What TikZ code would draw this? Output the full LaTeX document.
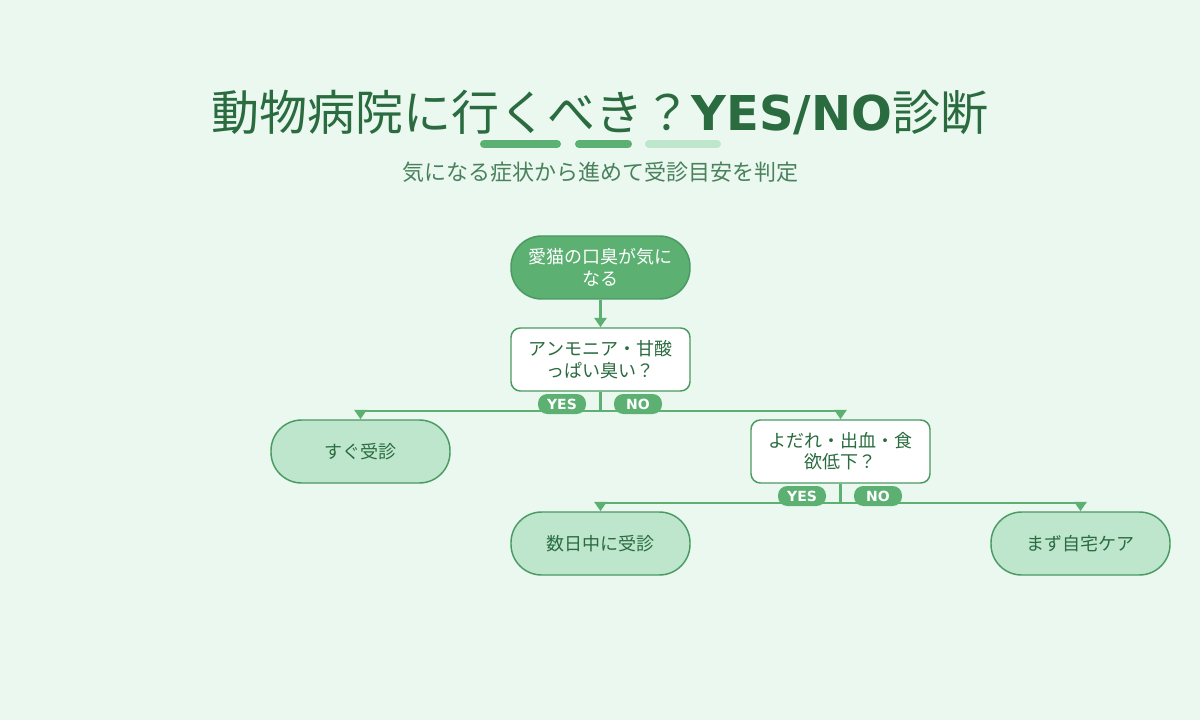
\documentclass[tikz,border=0pt]{standalone}
\usepackage{fontspec}
\setmainfont{Noto Sans CJK JP}
\newfontfamily\lat{DejaVu Sans}
\usetikzlibrary{arrows.meta}
\definecolor{bg}{HTML}{EAF8EF}
\definecolor{dk}{HTML}{2A6B3F}
\definecolor{gr}{HTML}{5CB072}
\definecolor{bd}{HTML}{4A9A62}
\definecolor{lt}{HTML}{BEE6CD}
\tikzset{
 x=0.75pt,y=-0.75pt,
 box/.style={minimum width=134.25pt,minimum height=47.25pt,draw=bd,line width=1.1pt,align=center,font=\fontsize{13.5}{16}\selectfont,inner sep=2pt},
 term/.style={box,rounded corners=23pt},
 qbox/.style={box,rounded corners=7pt,fill=white,text=dk},
 pill/.style={fill=gr,text=white,rounded corners=7pt,minimum width=36pt,minimum height=15pt,inner sep=0pt,font=\lat\bfseries\fontsize{10.5}{10}\selectfont},
 con/.style={draw=gr,line width=1.8pt},
 arr/.style={con,-{Triangle[width=9pt,length=7pt]}},
 bar/.style={line width=6pt,line cap=round}
}
\begin{document}
\begin{tikzpicture}
\fill[bg] (0,0) rectangle (1200,720);
\useasboundingbox (0,0) rectangle (1200,720);
\node[text=dk,font=\fontsize{36}{40}\selectfont,anchor=base] (title) at (600,131) {動物病院に行くべき？{\lat\bfseries YES/NO}診断};
\draw[bar,gr] (484,144) -- (557,144);
\draw[bar,gr] (579,144) -- (628,144);
\draw[bar,lt] (649,144) -- (717,144);
\node[text=dk!85,font=\fontsize{16.5}{18}\selectfont] (sub) at (600,172) {気になる症状から進めて受診目安を判定};
\node[term,fill=gr,text=white] (s) at (600.5,267.5) {愛猫の口臭が気に\\なる};
\node[qbox] (q1) at (600.5,359.5) {アンモニア・甘酸\\っぱい臭い？};
\node[term,fill=lt,text=dk] (a1) at (360.5,451.5) {すぐ受診};
\node[qbox] (q2) at (840.5,451.5) {よだれ・出血・食\\欲低下？};
\node[term,fill=lt,text=dk] (a2) at (600.5,543.5) {数日中に受診};
\node[term,fill=lt,text=dk] (a3) at (1080.5,543.5) {まず自宅ケア};
\draw[arr] (s) -- (q1);
\coordinate (j1) at (600.5,411);
\draw[con] (q1.south) -- (j1);
\draw[arr] (j1) -| (a1.north);
\draw[arr] (j1) -| (q2.north);
\coordinate (j2) at (840.5,503);
\draw[con] (q2.south) -- (j2);
\draw[arr] (j2) -| (a2.north);
\draw[arr] (j2) -| (a3.north);
\node[pill] (y1) at (562,404) {YES};
\node[pill] (n1) at (638,404) {NO};
\node[pill] (y2) at (802,496) {YES};
\node[pill] (n2) at (878,496) {NO};
\end{tikzpicture}
\end{document}
